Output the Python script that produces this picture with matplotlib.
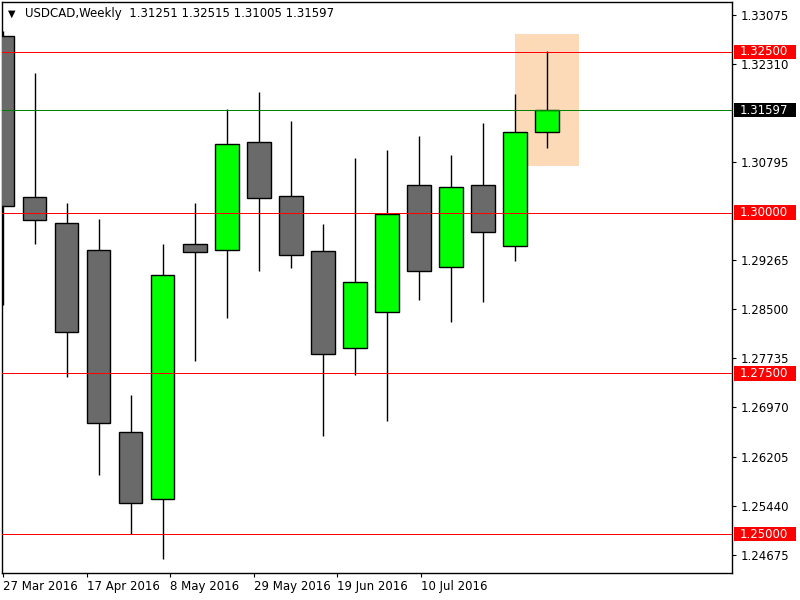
import matplotlib
matplotlib.use("Agg")
import matplotlib.pyplot as plt
import matplotlib.transforms as mtransforms
from matplotlib.patches import Rectangle

# weekly USDCAD candles
symbol = "USDCAD"
timeframe = "Weekly"
opens = [1.32749, 1.30244, 1.29840, 1.29420, 1.26588, 1.25546, 1.29513, 1.29420, 1.31100,
         1.30260, 1.29404, 1.27895, 1.28455, 1.30431, 1.29155, 1.30431, 1.29482, 1.31251]
highs = [1.32826, 1.32173, 1.30151, 1.29902, 1.27164, 1.29513, 1.30151, 1.31613, 1.31877,
         1.31426, 1.29824, 1.30851, 1.30975, 1.31193, 1.30897, 1.31395, 1.31846, 1.32515]
lows = [1.28564, 1.29513, 1.27444, 1.25920, 1.25002, 1.24613, 1.27693, 1.28362, 1.29093,
        1.29140, 1.26526, 1.27475, 1.26760, 1.28642, 1.28300, 1.28611, 1.29249, 1.31005]
closes = [1.30104, 1.29886, 1.28144, 1.26728, 1.25484, 1.29031, 1.29389, 1.31069, 1.30229,
          1.29342, 1.27802, 1.28922, 1.29980, 1.29093, 1.30400, 1.29700, 1.31251, 1.31597]

level_lines = [1.32500, 1.30000, 1.27500, 1.25000]
price_tick_labels = [1.33075, 1.32310, 1.30795, 1.29265, 1.28500, 1.27735,
                     1.26970, 1.26205, 1.25440, 1.24675]
date_labels = ["27 Mar 2016", "17 Apr 2016", "8 May 2016", "29 May 2016",
               "19 Jun 2016", "10 Jul 2016"]
date_tick_pos = [0, 2.625, 5.22, 7.84, 10.44, 13.06]

# highlighted zone around the last bars
zone_x = (16, 18)
zone_y = (1.30726, 1.32779)

bull_col = "#00ff00"
bear_col = "#6a6a6a"
red = "#ff0000"

fig = plt.figure(figsize=(8, 6), dpi=100)
ax = fig.add_axes([2 / 800, 27 / 600, 730 / 800, 571 / 600])

ax.add_patch(Rectangle((zone_x[0], zone_y[0]), zone_x[1] - zone_x[0], zone_y[1] - zone_y[0],
                       facecolor="#fddab7", edgecolor="none", zorder=0))

x = list(range(len(opens)))
ax.vlines(x, lows, highs, color="black", linewidth=1, zorder=2)
for i in x:
    o, c = opens[i], closes[i]
    col = bull_col if c >= o else bear_col
    ax.bar(i, abs(c - o), bottom=min(o, c), width=0.72, color=col,
           edgecolor="black", linewidth=1, zorder=3)

# level lines, 1px and crisp like the terminal draws them
for lv in level_lines:
    ax.axhline(lv, color=red, linewidth=0.72, antialiased=False, zorder=4)
ax.axhline(closes[-1], color="#008000", linewidth=0.72, antialiased=False, zorder=4)

ax.set_xlim(-0.03, 22.78)
ax.set_ylim(1.24395, 1.33277)

ax.yaxis.tick_right()
ax.set_yticks(price_tick_labels)
ax.set_yticklabels(["%.5f" % v for v in price_tick_labels])
ax.tick_params(axis="y", length=3, pad=3, labelsize=8.5, width=0.8)

ax.set_xticks(date_tick_pos)
ax.set_xticklabels(date_labels, ha="left")
ax.tick_params(axis="x", length=3, pad=2, labelsize=8.5, width=0.8)

for sp in ax.spines.values():
    sp.set_linewidth(1)
    sp.set_color("black")

# price boxes on the right scale
trans = mtransforms.blended_transform_factory(ax.transAxes, ax.transData)
box_h = 0.00225
box_w = 62 / 730
for lv, bg in [(v, red) for v in level_lines] + [(closes[-1], "black")]:
    ax.add_patch(Rectangle((1.0027, lv - box_h / 2), box_w, box_h, transform=trans,
                           facecolor=bg, edgecolor="none", clip_on=False, zorder=10))
    ax.text(1.0027 + 6 / 730, lv, "%.5f" % lv, transform=trans, color="white",
            fontsize=8.5, va="center", ha="left", clip_on=False, zorder=11)

# header
ax.text(6 / 730, 1 - 12 / 571, "\u25bc", transform=ax.transAxes, fontsize=7,
        va="center", ha="left")
ax.text(23 / 730, 1 - 12 / 571,
        "%s,%s  %.5f %.5f %.5f %.5f" % (symbol, timeframe, opens[-1], highs[-1], lows[-1], closes[-1]),
        transform=ax.transAxes, fontsize=8.5, va="center", ha="left")

fig.savefig("out.png", dpi=100)
